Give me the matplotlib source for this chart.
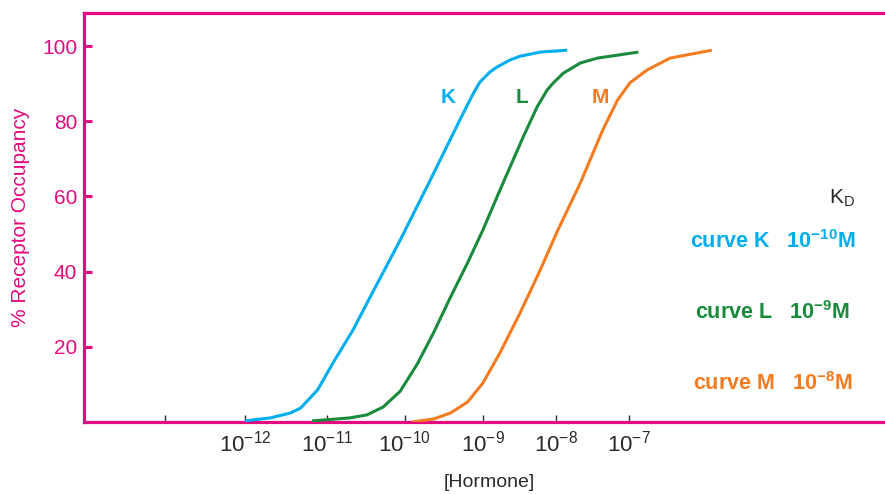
import matplotlib
matplotlib.use("Agg")
import matplotlib.pyplot as plt

plt.rcParams['font.family'] = ['Liberation Sans', 'DejaVu Sans']
plt.rcParams['mathtext.fontset'] = 'custom'
plt.rcParams['mathtext.rm'] = 'Liberation Sans'
plt.rcParams['mathtext.it'] = 'Liberation Sans:italic'
plt.rcParams['mathtext.bf'] = 'Liberation Sans:bold'

MAGENTA = '#E5097F'
BLUE = '#00AEEF'
GREEN = '#1A8A3C'
ORANGE = '#F47B20'
INK = '#2a2a2a'

# x in decades of hormone concentration (hand drawn axis, so ticks are a bit uneven)
tick_pos = [-13.0, -11.97, -10.91, -9.90, -8.89, -7.94, -7.0]
tick_labels = ['', r'$10^{-12}$', r'$10^{-11}$', r'$10^{-10}$', r'$10^{-9}$', r'$10^{-8}$', r'$10^{-7}$']

# curve K  (KD 1e-10 M)
k_x = [-11.97, -11.64, -11.38, -11.25, -11.03, -10.83, -10.57, -10.35, -9.96, -9.57,
       -9.19, -9.06, -8.99, -8.93, -8.80, -8.71, -8.54, -8.41, -8.15, -7.80]
k_y = [0.3, 1.1, 2.4, 3.7, 8.5, 15.7, 24.5, 33.2, 48.4, 64.4,
       80.3, 85.6, 88.3, 90.4, 93.1, 94.4, 96.3, 97.3, 98.4, 98.9]

# curve L  (KD 1e-9 M)
l_x = [-11.10, -10.61, -10.39, -10.18, -9.96, -9.74, -9.53, -9.31, -9.09, -8.89,
       -8.67, -8.37, -8.19, -8.06, -7.98, -7.85, -7.63, -7.41, -6.88]
l_y = [0.3, 1.1, 1.9, 4.0, 8.2, 15.4, 23.7, 33.2, 42.3, 51.1,
       61.7, 75.8, 83.8, 88.3, 90.2, 92.8, 95.5, 96.8, 98.4]

# curve M  (KD 1e-8 M)
m_x = [-9.81, -9.53, -9.31, -9.09, -8.89, -8.67, -8.41, -8.15, -7.92, -7.63,
       -7.34, -7.15, -6.99, -6.77, -6.47, -5.93]
m_y = [0.0, 0.8, 2.4, 5.3, 10.4, 18.4, 29.0, 40.4, 51.1, 63.6,
       77.7, 85.6, 90.2, 93.6, 96.8, 98.9]

fig = plt.figure(figsize=(8.85, 4.94), dpi=100)
ax = fig.add_axes([0.0949, 0.1457, 0.9051, 0.828])

for xs, ys, c in [(k_x, k_y, BLUE), (l_x, l_y, GREEN), (m_x, m_y, ORANGE)]:
    ax.plot(xs, ys, color=c, lw=2.2, solid_joinstyle='round', solid_capstyle='butt', zorder=3)

ax.text(-9.34, 86.2, 'K', color=BLUE, fontsize=15, fontweight='bold', ha='center', va='center')
ax.text(-8.38, 86.2, 'L', color=GREEN, fontsize=15, fontweight='bold', ha='center', va='center')
ax.text(-7.37, 86.2, 'M', color=ORANGE, fontsize=15, fontweight='bold', ha='center', va='center')

ax.set_xlim(-14.05, -3.69)
ax.set_ylim(0, 108.8)

ax.set_xticks(tick_pos)
ax.set_xticklabels(tick_labels, fontsize=16, color=INK)
ax.set_yticks([20, 40, 60, 80, 100])
ax.set_yticklabels(['20', '40', '60', '80', '100'], fontsize=15, color=MAGENTA)

ax.tick_params(axis='x', direction='in', length=5, width=1, color=INK, pad=6)
ax.tick_params(axis='y', direction='in', length=6, width=2.2, color=MAGENTA, pad=5)

for s in ['left', 'top', 'bottom']:
    ax.spines[s].set_color(MAGENTA)
    ax.spines[s].set_linewidth(2.3)
ax.spines['right'].set_visible(False)

ax.set_ylabel('% Receptor Occupancy', color=MAGENTA, fontsize=15)
ax.yaxis.set_label_coords(-0.068, 0.5)
ax.set_xlabel('[Hormone]', fontsize=14, color=INK)
ax.xaxis.set_label_coords(0.506, -0.128)

fig.text(0.951, 0.599, r'K$_\mathrm{D}$', fontsize=15, color=INK, ha='center', va='center')
fig.text(0.873, 0.512, r'curve K   $\mathbf{10^{-10}}$M', fontsize=15.5, fontweight='bold',
         color=BLUE, ha='center', va='center')
fig.text(0.873, 0.368, r'curve L   $\mathbf{10^{-9}}$M', fontsize=15.5, fontweight='bold',
         color=GREEN, ha='center', va='center')
fig.text(0.873, 0.223, r'curve M   $\mathbf{10^{-8}}$M', fontsize=15.5, fontweight='bold',
         color=ORANGE, ha='center', va='center')

fig.savefig('out.png', dpi=100)
